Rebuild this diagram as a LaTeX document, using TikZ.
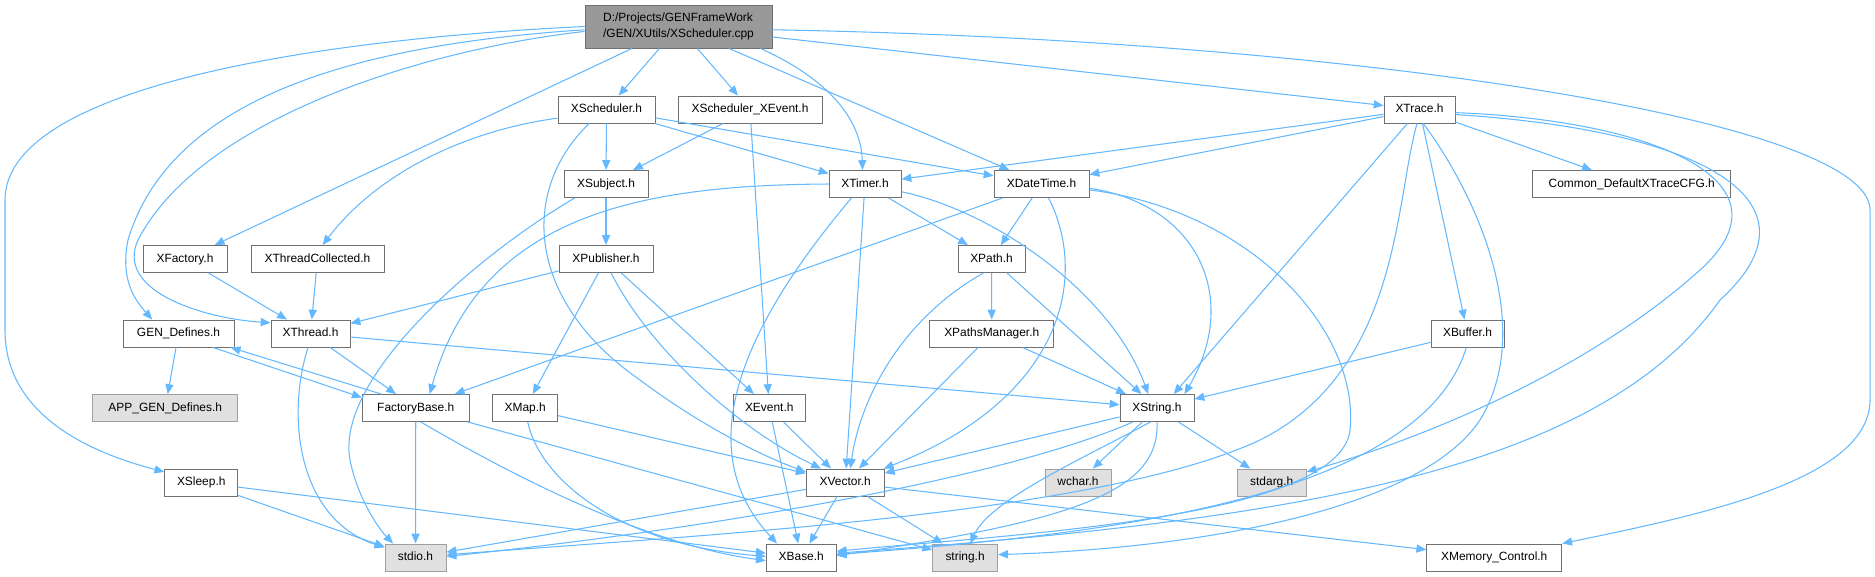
\documentclass[tikz,border=0pt]{standalone}
\usepackage{fontspec}
\setmainfont{Liberation Sans}
\usetikzlibrary{arrows.meta}
\definecolor{edgec}{HTML}{63B8FF}
\definecolor{bord}{HTML}{707070}
\definecolor{rootfill}{HTML}{999999}
\definecolor{extfill}{HTML}{E0E0E0}
\definecolor{extbord}{HTML}{A0A0A0}
\tikzset{
 base/.style={draw=bord, line width=0.55pt, inner sep=0pt, font=\fontsize{6.8}{8.9}\selectfont},
 nd/.style={base, fill=white, minimum height=0.54cm, text height=5.0pt, text depth=1.4pt},
 ext/.style={nd, fill=extfill, draw=extbord},
 rootnd/.style={base, fill=rootfill, minimum height=0.86cm, align=left},
 e/.style={draw=edgec, line width=0.6pt, -{Triangle[length=5.6pt,width=4.6pt]}},
}
\begin{document}
\begin{tikzpicture}[x=0.02cm, y=-0.02cm]
\useasboundingbox (0,0) rectangle (1875,576);
% nodes
\node[rootnd, minimum width=3.74cm] (root) at (678.5,26.5) {D:/Projects/GENFrameWork\\/GEN/XUtils/XScheduler.cpp};
\node[nd, minimum width=1.94cm] (xsch) at (606.5,109.5) {XScheduler.h};
\node[nd, minimum width=2.88cm] (xschev) at (750,109.5) {XScheduler\_XEvent.h};
\node[nd, minimum width=1.42cm] (xtrace) at (1419.5,109.5) {XTrace.h};
\node[nd, minimum width=1.68cm] (xsubj) at (606,184) {XSubject.h};
\node[nd, minimum width=1.44cm] (xtimer) at (865,184) {XTimer.h};
\node[nd, minimum width=1.90cm] (xdt) at (1041.5,184) {XDateTime.h};
\node[nd, minimum width=3.96cm] (common) at (1631.75,184) {Common\_DefaultXTraceCFG.h};
\node[nd, minimum width=1.68cm] (xfac) at (185,259) {XFactory.h};
\node[nd, minimum width=2.66cm] (xtc) at (317.5,259) {XThreadCollected.h};
\node[nd, minimum width=1.88cm] (xpub) at (606,259) {XPublisher.h};
\node[nd, minimum width=1.34cm] (xpath) at (991.5,259) {XPath.h};
\node[nd, minimum width=2.22cm] (gen) at (178.5,333.5) {GEN\_Defines.h};
\node[nd, minimum width=1.58cm] (xthread) at (310.5,333.5) {XThread.h};
\node[nd, minimum width=2.48cm] (xpm) at (991.75,333.5) {XPathsManager.h};
\node[nd, minimum width=1.46cm] (xbuf) at (1467.5,333.5) {XBuffer.h};
\node[ext, minimum width=2.90cm] (app) at (165.25,408) {APP\_GEN\_Defines.h};
\node[nd, minimum width=2.14cm] (fb) at (415.75,408) {FactoryBase.h};
\node[nd, minimum width=1.30cm] (xmap) at (525.25,408) {XMap.h};
\node[nd, minimum width=1.44cm] (xevent) at (769.25,408) {XEvent.h};
\node[nd, minimum width=1.48cm] (xstring) at (1157,408) {XString.h};
\node[nd, minimum width=1.46cm] (xsleep) at (201.25,482.5) {XSleep.h};
\node[nd, minimum width=1.56cm] (xvec) at (845.25,482.5) {XVector.h};
\node[ext, minimum width=1.32cm] (wchar) at (1078,482.5) {wchar.h};
\node[ext, minimum width=1.38cm] (stdarg) at (1271.75,482.5) {stdarg.h};
\node[ext, minimum width=1.22cm] (stdio) at (415.5,557.5) {stdio.h};
\node[nd, minimum width=1.40cm] (xbase) at (801.25,557.5) {XBase.h};
\node[ext, minimum width=1.30cm] (string) at (965.1,557.5) {string.h};
\node[nd, minimum width=2.70cm] (xmem) at (1494.25,557.5) {XMemory\_Control.h};
% root
\draw[e] (root) -- (xsch);
\draw[e] (root) -- (xschev);
\draw[e] (root.-15) .. controls (830,80) and (861,120) .. (xtimer.100);
\draw[e] (root) -- (xdt);
\draw[e] (root) -- (xtrace);
\draw[e] (root.-2) .. controls (1350,40) and (1870,120) .. (1870,210) -- (1870,400) .. controls (1870,480) and (1700,515) .. (xmem.north east);
\draw[e] (root) -- (xfac);
\draw[e] (root.182) .. controls (350,45) and (170,100) .. (128,240) .. controls (120,280) and (135,300) .. (gen.152);
\draw[e] (root.183) .. controls (420,50) and (200,120) .. (138,240) .. controls (115,290) and (200,318) .. (xthread.165);
\draw[e] (root.180) .. controls (300,40) and (5,90) .. (5,200) -- (5,330) .. controls (5,420) and (100,455) .. (xsleep.164);
% XScheduler
\draw[e] (xsch) -- (xsubj);
\draw[e] (xsch) -- (xtimer);
\draw[e] (xsch) -- (xdt);
\draw[e] (xsch.190) .. controls (470,130) and (380,170) .. (xtc.70);
\draw[e] (xsch.219) .. controls (520,190) and (525,300) .. (640,380) .. controls (700,425) and (760,455) .. (xvec.165);
% XScheduler_XEvent
\draw[e] (xschev) -- (xsubj);
\draw[e] (xschev) -- (xevent);
% XSubject
\draw[e] (xsubj) -- (xpub);
\draw[e] (xsubj.204) .. controls (470,260) and (335,380) .. (350,460) .. controls (358,500) and (380,530) .. (stdio.148);
% XPublisher
\draw[e] (xpub) -- (xthread);
\draw[e] (xpub) -- (xmap);
\draw[e] (xpub) -- (xevent);
\draw[e] (xpub.-70) .. controls (650,350) and (740,430) .. (xvec.150);
% XTimer
\draw[e] (xtimer) -- (xpath);
\draw[e] (xtimer.-12) .. controls (990,210) and (1110,290) .. (xstring.122);
\draw[e] (xtimer) -- (xvec);
\draw[e] (xtimer.226) .. controls (740,330) and (690,450) .. (xbase.150);
\draw[e] (xtimer.west) .. controls (640,185) and (480,215) .. (fb.45);
% XDateTime
\draw[e] (xdt) -- (xpath);
\draw[e] (xdt) -- (fb);
\draw[e] (xdt.-63) .. controls (1090,280) and (1060,400) .. (xvec.20);
\draw[e] (xdt.-5) .. controls (1200,205) and (1240,300) .. (xstring.27);
\draw[e] (xdt.-7) .. controls (1250,210) and (1360,330) .. (1350,430) .. controls (1340,520) and (1000,535) .. (xbase.10);
% XTrace
\draw[e] (xtrace) -- (xtimer);
\draw[e] (xtrace) -- (xdt);
\draw[e] (xtrace) -- (common);
\draw[e] (xtrace) -- (xbuf);
\draw[e] (xtrace) -- (xstring.40);
\draw[e] (xtrace.-100) .. controls (1395,200) and (1400,370) .. (1260,440) .. controls (1100,515) and (700,535) .. (stdio.5);
\draw[e] (xtrace.-75) .. controls (1480,200) and (1535,330) .. (1480,420) .. controls (1420,510) and (1200,548) .. (string.5);
\draw[e] (xtrace.-5) .. controls (1650,120) and (1800,180) .. (1700,270) .. controls (1600,360) and (1450,430) .. (stdarg.17);
\draw[e] (xtrace.-8) .. controls (1700,130) and (1830,200) .. (1720,300) .. controls (1600,470) and (1300,520) .. (xbase.7);
% XFactory, XThreadCollected
\draw[e] (xfac) -- (xthread);
\draw[e] (xtc) -- (xthread);
% XThread
\draw[e] (xthread) -- (fb);
\draw[e] (xthread.-100) .. controls (285,420) and (300,520) .. (stdio.162);
\draw[e] (xthread) -- (xstring);
% GEN_Defines
\draw[e] (gen) -- (app);
\draw[e] (gen.-22) -- (fb.169);
\draw[e] (fb.158) -- (gen.-15);
% FactoryBase
\draw[e] (fb) -- (stdio);
\draw[e] (fb.-70) .. controls (520,480) and (650,545) .. (xbase.185);
\draw[e] (fb.-15) -- (string.167);
% XMap
\draw[e] (xmap) -- (xvec);
\draw[e] (xmap.-80) .. controls (540,480) and (620,545) .. (xbase.178);
% XEvent
\draw[e] (xevent) -- (xvec);
\draw[e] (xevent) -- (xbase);
% XPath
\draw[e] (xpath) -- (xpm);
\draw[e] (xpath) -- (xstring);
\draw[e] (xpath.-120) .. controls (900,320) and (860,400) .. (xvec.70);
% XPathsManager
\draw[e] (xpm) -- (xstring);
\draw[e] (xpm) -- (xvec);
% XBuffer
\draw[e] (xbuf) -- (xstring);
\draw[e] (xbuf.-95) .. controls (1420,500) and (1100,535) .. (xbase.5);
% XString
\draw[e] (xstring) -- (xvec);
\draw[e] (xstring) -- (wchar);
\draw[e] (xstring) -- (stdarg);
\draw[e] (xstring.-115) .. controls (1080,460) and (990,500) .. (string.70);
\draw[e] (xstring.-90) .. controls (1160,490) and (1080,520) .. (xbase.3);
\draw[e] (xstring.-150) .. controls (1000,480) and (700,530) .. (stdio.2);
% XVector
\draw[e] (xvec) -- (xbase);
\draw[e] (xvec) -- (string);
\draw[e] (xvec) -- (stdio);
\draw[e] (xvec) -- (xmem);
% XSleep
\draw[e] (xsleep) -- (stdio);
\draw[e] (xsleep) -- (xbase);
\end{tikzpicture}
\end{document}
